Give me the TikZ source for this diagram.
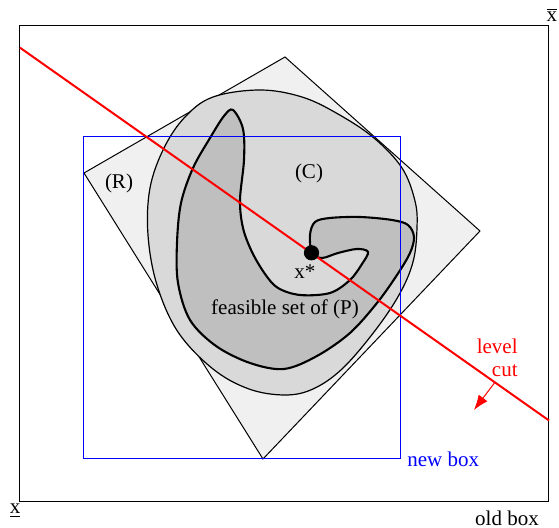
\documentclass[tikz,border=0pt]{standalone}
\usepackage{fontspec}
\setmainfont{Liberation Serif}
\usetikzlibrary{arrows.meta,positioning}

\begin{document}
\begin{tikzpicture}[
    x=0.5pt, y=-0.5pt,
    font=\fontsize{10.5}{11.5}\selectfont,
    oldbox/.style={
        draw,
        line width=0.5pt
    },
    newbox/.style={
        draw=blue,
        line width=0.5pt
    },
    relaxset/.style={
        draw,
        fill=black!6,
        line width=0.5pt
    },
    convexset/.style={
        draw,
        fill=black!15,
        line width=0.6pt
    },
    feasset/.style={
        draw,
        fill=black!25,
        line width=1.05pt
    },
    cutline/.style={
        draw=red,
        line width=1pt
    },
    cutarrow/.style={
        draw=red,
        line width=0.5pt,
        -{Latex[length=7.5pt,width=5.5pt]}
    },
    lbl/.style={
        inner sep=0pt
    }
]

    \useasboundingbox (0,0) rectangle (559,528);

    % --- Corners ---
    \coordinate (ob-nw) at (20,26);
    \coordinate (ob-se) at (549,502);
    \coordinate (nb-nw) at (84,137);
    \coordinate (nb-se) at (401,459);

    % Relaxation (R), a tilted square
    \coordinate (r-top) at (285,57);
    \coordinate (r-right) at (480,231);
    \coordinate (r-bot) at (263,459);
    \coordinate (r-left) at (84,173);

    % --- Sets ---
    \path [oldbox] (ob-nw) rectangle (ob-se);
    \path [relaxset] (r-top) -- (r-right) -- (r-bot) -- (r-left) -- cycle;

    \path [convexset] plot [smooth cycle, tension=0.6] coordinates {
        (260,90) (302,97) (338,114) (374,138) (402,168) (415,201) (417,228)
        (413,262) (399,295) (374,332) (342,369) (313,389) (285,395)
        (249,389) (213,369) (178,332) (157,285) (148,235) (150,188)
        (164,148) (185,117) (213,97)};

    \path [feasset] plot [smooth cycle, tension=0.55] coordinates {
        (233,110) (243,129) (244,160) (240,200) (243,228) (252,252)
        (265,274) (278,288) (300,295) (330,293) (350,280) (362,264)
        (368,252) (357,249) (338,253) (322,258) (312,253) (310,235)
        (315,222) (330,218) (360,217) (392,220) (408,225) (414,237)
        (410,253) (397,275) (377,303) (350,333) (317,356) (284,369)
        (250,363) (216,346) (190,320) (178,283) (177,243) (181,203)
        (193,168) (210,138) (224,116)};

    \path [newbox] (nb-nw) rectangle (nb-se);

    % --- Level cut ---
    \coordinate (cut-l) at (20,47.7);
    \coordinate (cut-r) at (549,420.5);
    \coordinate (cut-foot) at (495,382.2);
    \coordinate (cut-tip) at (474,410);
    \path [cutline] (cut-l) -- (cut-r);
    \path [cutarrow] (cut-foot) -- (cut-tip);

    \coordinate (xstar) at (311.5,252.8);
    \fill (xstar) circle [radius=3.8pt];

    % --- Labels ---
    \node [lbl] (xup) at (552,15) {$\overline{\hbox{x}}$};
    \node [lbl] (xlow) at (15,511) {$\underline{\hbox{x}}$};
    \node [lbl] (oldlbl) at (507,518) {old box};
    \node [lbl, text=blue, right=3pt of nb-se] (newlbl) {new box};
    \node [lbl] (rlbl) at (119,183) {(R)};
    \node [lbl] (clbl) at (309,173) {(C)};
    \node [lbl] (xslbl) at (305,272) {x*};
    \node [lbl] (plbl) at (285,309) {feasible set of (P)};
    \node [lbl, text=red, align=right, anchor=east] (cutlbl) at (518,358) {level\\cut};

\end{tikzpicture}
\end{document}
